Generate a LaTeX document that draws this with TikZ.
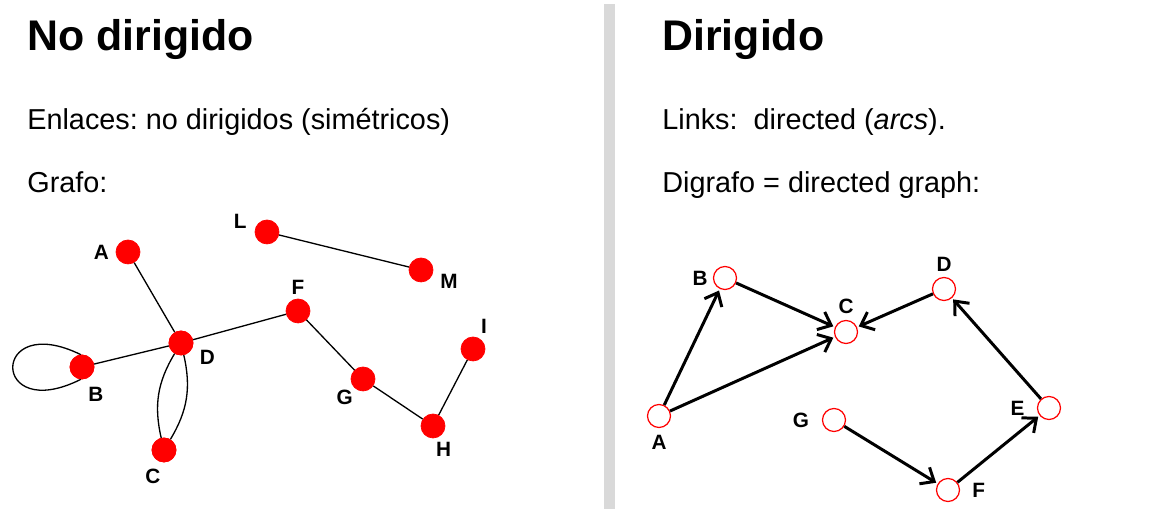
\documentclass[tikz,border=0pt]{standalone}
\usepackage{fontspec}
\setmainfont{Liberation Sans}
\usetikzlibrary{arrows.meta, positioning}
\definecolor{sepgray}{HTML}{D9D9D9}
\definecolor{nodered}{HTML}{FF0000}
\frenchspacing

\begin{document}
\begin{tikzpicture}[
    x=0.02cm, y=-0.02cm,
    title/.style={anchor=base west, inner sep=0pt, font=\fontsize{24.4}{28}\selectfont\bfseries},
    txt/.style={anchor=base west, inner sep=0pt, font=\fontsize{16.4}{20}\selectfont},
    lbl/.style={inner sep=0pt, font=\fontsize{11.8}{14}\selectfont\bfseries},
    dot/.style={circle, fill=nodered, draw=nodered, minimum size=0.48cm, inner sep=0pt},
    ring/.style={circle, fill=white, draw=nodered, line width=0.7pt, minimum size=0.46cm, inner sep=0pt},
    edge/.style={line width=0.75pt, draw=black},
    arc/.style={-{Straight Barb[length=6.5pt, width=11pt, line width=1.7pt]}, line width=1.7pt, draw=black, shorten >=1pt},
]
\useasboundingbox (0,0) rectangle (1161,509);

% Separator
\fill[sepgray] (604,4) rectangle (615,509);

% Left panel text
\node[title] (tl) at (27,51) {No dirigido};
\node[txt] (el) at (27,130) {Enlaces: no dirigidos (simétricos)};
\node[txt] (gr) at (27,193) {Grafo:};

% Undirected graph
\node[dot, label={[lbl, label distance=0.13cm]180:A}] (a) at (128,252) {};
\node[dot, label={[lbl, label distance=0.16cm]172:L}] (l) at (267,232) {};
\node[dot, label={[lbl, label distance=0.14cm]-12:M}] (m) at (421,270) {};
\node[dot, label={[lbl, label distance=0.07cm]90:F}] (f) at (298,311) {};
\node[dot, label={[lbl, label distance=0.15cm]-21:D}] (d) at (181,343) {};
\node[dot, label={[lbl, label distance=0.17cm]-73:B}] (b) at (82,367) {};
\node[dot, label={[lbl, label distance=0.04cm]-133:G}] (g) at (363,379) {};
\node[dot, label={[lbl, label distance=0.09cm]63:I}] (i) at (473,349) {};
\node[dot, label={[lbl, label distance=0.07cm]-80:H}] (h) at (433,426) {};
\node[dot, label={[lbl, label distance=0.14cm]-100:C}] (c) at (164,450) {};

\begin{scope}[on background layer/.try]
\draw[edge] (l) -- (m);
\draw[edge] (a) -- (d);
\draw[edge] (b) -- (d);
\draw[edge] (d) -- (f);
\draw[edge] (f) -- (g);
\draw[edge] (g) -- (h);
\draw[edge] (h) -- (i);
\draw[edge] (d) to[bend left=22] (c);
\draw[edge] (d) to[bend right=22] (c);
\draw[edge] (b.95) .. controls (-10,310) and (-10,425) .. (b.265);
\end{scope}
\node[dot] at (b) {};
\node[dot] at (d) {};
\node[dot] at (c) {};

% Right panel text
\node[title] (tr) at (662,51) {Dirigido};
\node[txt] (lk) at (662,130) {Links:\ \ directed (\textit{arcs}).};
\node[txt] (dg) at (662,193) {Digrafo = directed graph:};

% Directed graph
\node[ring, label={[lbl, label distance=0.10cm]180:B}] (rb) at (725,278) {};
\node[ring, label={[lbl, label distance=0.10cm]90:D}] (rd) at (944,289) {};
\node[ring, label={[lbl, label distance=0.12cm]90:C}] (rc) at (846,332) {};
\node[ring, label={[lbl, label distance=0.14cm]-90:A}] (ra) at (659,416) {};
\node[ring, label={[lbl, label distance=0.25cm]180:G}] (rg) at (834,420) {};
\node[ring, label={[lbl, label distance=0.24cm]180:E}] (re) at (1049,408) {};
\node[ring, label={[lbl, label distance=0.24cm]0:F}] (rf) at (948,490) {};

\draw[arc] (ra) -- (rb);
\draw[arc] (ra) -- (rc);
\draw[arc] (rb) -- (rc);
\draw[arc] (rd) -- (rc);
\draw[arc] (re) -- (rd);
\draw[arc] (rg) -- (rf);
\draw[arc] (rf) -- (re);

\end{tikzpicture}
\end{document}
